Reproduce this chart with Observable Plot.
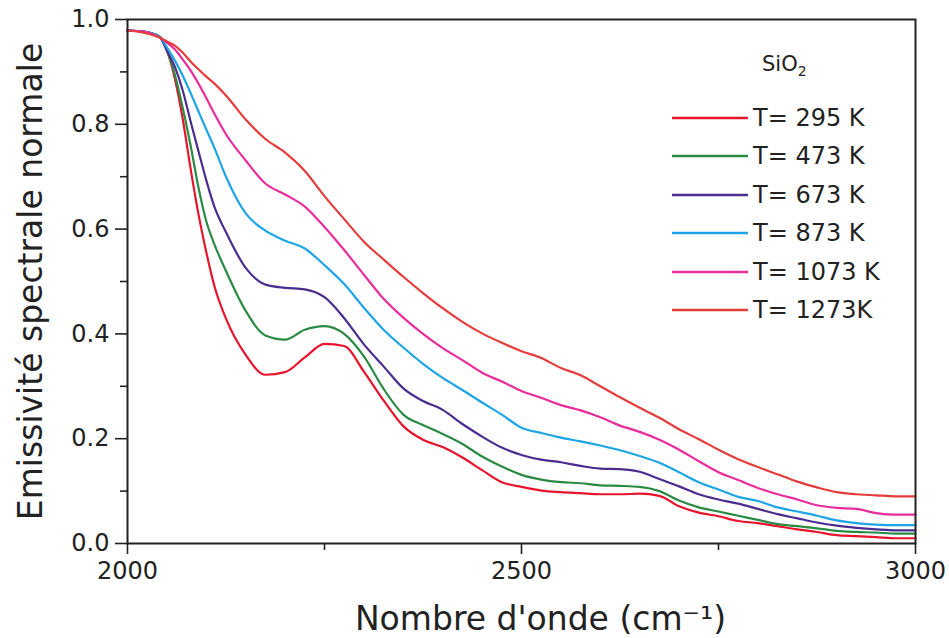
<!DOCTYPE html>
<html>
<head>
<meta charset="utf-8">
<script src="https://cdn.jsdelivr.net/npm/d3@7"></script>
<script src="https://cdn.jsdelivr.net/npm/@observablehq/plot@0.6"></script>
<style>
  html, body { margin: 0; padding: 0; background: #fff; }
  #wrap { position: relative; width: 949px; height: 638px; font-family: "DejaVu Sans", sans-serif; color: #222; }
  #legend { position: absolute; left: 0; top: 0; width: 949px; height: 638px; pointer-events: none; }
  .title { position: absolute; left: 762px; top: 52px; font-size: 21px; }
  .title sub { font-size: 14px; vertical-align: -5px; }
  .row { position: absolute; left: 672px; height: 30px; display: flex; align-items: center; font-size: 24px; }
  .row svg { width: 76px; height: 6px; margin-right: 5px; }
</style>
</head>
<body>
<div id="wrap"><div id="legend"></div></div>
<script>
// Wavenumber (cm^-1)
const wavenumbers = [2000,2020,2040,2050,2060,2070,2080,2090,2100,2110,2125,
  2150,2175,2200,2225,2250,2275,2300,2325,2350,2375,2400,2425,2450,2475,2500,
  2525,2550,2575,2600,2625,2650,2675,2700,2725,2750,2775,2800,2825,2850,2875,
  2900,2925,2950,2975,3000];

const t295 = [0.979,0.977,0.968,0.941,0.888,0.811,0.716,0.629,0.556,0.493,0.429,
  0.360,0.322,0.327,0.355,0.381,0.377,0.328,0.273,0.224,0.198,0.184,0.164,0.140,0.117,0.108,
  0.101,0.098,0.096,0.094,0.094,0.095,0.091,0.071,0.059,0.052,0.043,0.039,0.033,0.027,0.022,
  0.016,0.014,0.012,0.010,0.010];
const t473 = [0.979,0.977,0.968,0.941,0.895,0.832,0.760,0.680,0.615,0.572,0.520,
  0.444,0.397,0.389,0.408,0.415,0.400,0.357,0.295,0.246,0.226,0.209,0.190,0.166,0.147,0.131,
  0.122,0.117,0.115,0.111,0.110,0.108,0.100,0.082,0.069,0.061,0.053,0.045,0.037,0.033,0.029,
  0.024,0.022,0.021,0.019,0.019];
const t673 = [0.979,0.977,0.968,0.941,0.910,0.865,0.806,0.749,0.693,0.644,0.594,
  0.526,0.494,0.488,0.485,0.470,0.430,0.380,0.338,0.296,0.272,0.255,0.228,0.204,0.183,0.169,
  0.160,0.155,0.148,0.143,0.142,0.137,0.123,0.109,0.094,0.084,0.076,0.066,0.056,0.048,0.040,
  0.034,0.030,0.027,0.025,0.025];
const t873 = [0.979,0.977,0.968,0.947,0.922,0.893,0.860,0.825,0.790,0.756,0.700,
  0.630,0.597,0.578,0.563,0.531,0.495,0.450,0.408,0.374,0.343,0.316,0.293,0.269,0.246,0.221,
  0.211,0.202,0.195,0.187,0.178,0.167,0.154,0.136,0.117,0.103,0.089,0.081,0.069,0.061,0.053,
  0.044,0.039,0.036,0.035,0.035];
const t1073 = [0.979,0.977,0.966,0.956,0.943,0.924,0.903,0.878,0.850,0.821,0.781,
  0.731,0.687,0.666,0.643,0.604,0.560,0.513,0.467,0.431,0.400,0.373,0.350,0.326,0.309,0.291,
  0.278,0.264,0.254,0.241,0.225,0.213,0.198,0.179,0.157,0.136,0.121,0.106,0.094,0.084,0.073,
  0.068,0.066,0.058,0.055,0.055];
const t1273 = [0.979,0.975,0.966,0.958,0.950,0.937,0.920,0.905,0.891,0.878,0.855,
  0.809,0.772,0.746,0.711,0.663,0.619,0.576,0.542,0.509,0.478,0.449,0.423,0.401,0.383,0.367,
  0.354,0.335,0.321,0.300,0.279,0.259,0.240,0.218,0.199,0.179,0.161,0.146,0.132,0.118,0.107,
  0.098,0.094,0.092,0.090,0.090];

const seriesNames = ["T= 295 K","T= 473 K","T= 673 K","T= 873 K","T= 1073 K","T= 1273K"];
const seriesValues = [t295, t473, t673, t873, t1073, t1273];
const seriesColors = ["#e8142c","#2b8a44","#4a2d8f","#1ea5e6","#ea2c9c","#e53c3c"];

const yMajor = [0, 0.2, 0.4, 0.6, 0.8, 1.0];
const yMinor = [0.1, 0.3, 0.5, 0.7, 0.9];
const xMajor = [2000, 2500, 3000];
const xMinor = [2250, 2750];

const rows = seriesValues.map((vals, s) =>
  wavenumbers.map((w, i) => ({wn: w, e: vals[i], T: seriesNames[s]})));

const lines = rows.map((r, s) =>
  Plot.line(r, {x: "wn", y: "e", stroke: seriesColors[s], strokeWidth: 2.2, curve: "monotone-x"}));

const chart = Plot.plot({
  width: 949,
  height: 638,
  marginLeft: 127,
  marginRight: 34,
  marginTop: 19,
  marginBottom: 95,
  style: {fontFamily: "DejaVu Sans, sans-serif", fontSize: "24px", color: "#222", background: "#fff"},
  x: {domain: [2000, 3000]},
  y: {domain: [0, 1]},
  marks: [
    ...lines,
    Plot.frame({stroke: "#222", strokeWidth: 2}),
    Plot.axisY({ticks: yMajor, tickSize: 12, tickPadding: 6, strokeWidth: 1.6,
      tickFormat: d3.format(".1f"), label: null, fontSize: 24}),
    Plot.axisY({ticks: yMinor, tickSize: 7, strokeWidth: 1.6, tickFormat: () => "", label: null}),
    Plot.axisX({ticks: xMajor, tickSize: 11, tickPadding: 7, strokeWidth: 1.6,
      tickFormat: d3.format("d"), label: null, fontSize: 24}),
    Plot.axisX({ticks: xMinor, tickSize: 7, strokeWidth: 1.6, tickFormat: () => "", label: null}),
    Plot.text(["Emissivité spectrale normale"], {frameAnchor: "left", dx: -96, rotate: -90,
      textAnchor: "middle", lineAnchor: "middle", fontSize: 33, fill: "#222"}),
    Plot.text(["Nombre d'onde (cm⁻¹)"], {frameAnchor: "bottom", dx: 19, dy: 76,
      textAnchor: "middle", lineAnchor: "middle", fontSize: 33, fill: "#222"})
  ]
});

const wrap = document.getElementById("wrap");
wrap.insertBefore(chart, wrap.firstChild);

// Legend
const legend = document.getElementById("legend");
const title = document.createElement("div");
title.className = "title";
title.innerHTML = "SiO<sub>2</sub>";
legend.appendChild(title);
const rowTops = [103, 141, 180, 218, 257, 295];
seriesNames.forEach((name, s) => {
  const row = document.createElement("div");
  row.className = "row";
  row.style.top = rowTops[s] + "px";
  row.innerHTML = `<svg viewBox="0 0 76 6"><line x1="0" y1="3" x2="76" y2="3" stroke="${seriesColors[s]}" stroke-width="2.4"/></svg><span>${name}</span>`;
  legend.appendChild(row);
});
</script>
</body>
</html>
